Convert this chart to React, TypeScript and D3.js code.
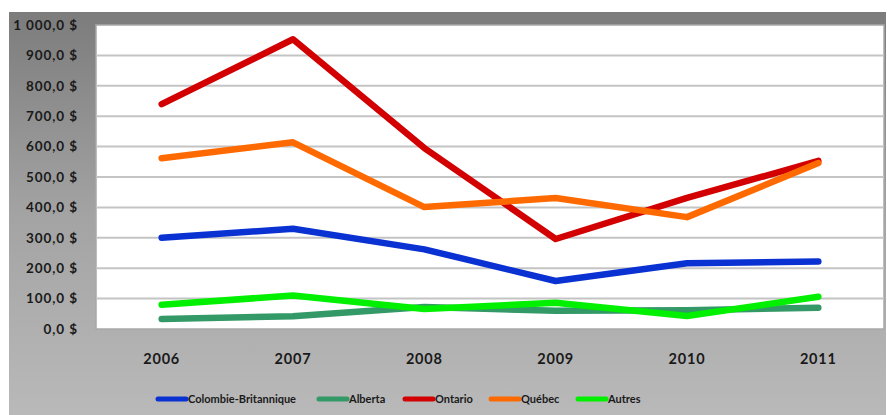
import React from "react";
import * as d3 from "d3";

const years = ["2006", "2007", "2008", "2009", "2010", "2011"];
const seriesNames = ["Colombie-Britannique", "Alberta", "Ontario", "Québec", "Autres"];
const seriesColors = ["#0a32d2", "#339966", "#d20000", "#ff6a00", "#00f000"];
const colombieBritannique = [300, 330, 262, 158, 216, 222];
const alberta = [33, 42, 72, 60, 62, 70];
const ontario = [740, 953, 595, 296, 431, 553];
const quebec = [562, 614, 401, 431, 368, 546];
const autres = [80, 110, 66, 86, 43, 106];
const yTicks = [0, 100, 200, 300, 400, 500, 600, 700, 800, 900, 1000];

const allSeries = [colombieBritannique, alberta, ontario, quebec, autres];

const fmt = (v: number) => {
  const s = v.toFixed(1).replace(".", ",");
  const [i, d] = s.split(",");
  const ii = i.replace(/\B(?=(\d{3})+(?!\d))/g, " ");
  return `${ii},${d} $`;
};

export default function App() {
  const W = 887, H = 415;
  const plot = { left: 96, right: 884, top: 25, bottom: 329 };
  const x = d3.scaleBand<string>().domain(years).range([plot.left, plot.right]);
  const y = d3.scaleLinear().domain([0, 1000]).range([plot.bottom, plot.top]);
  const line = d3
    .line<number>()
    .x((_, i) => (x(years[i]) as number) + x.bandwidth() / 2)
    .y((d) => y(d));
  const font = "Lato, 'Open Sans', sans-serif";
  const legendX = [158, 319, 405, 491, 578];
  return (
    <svg
      width={W}
      height={H}
      style={{ position: "absolute", left: 0, top: 0 }}
    >
      <defs>
        <linearGradient id="bg" x1="0" y1="0" x2="0" y2="1">
          <stop offset="0" stopColor="#7c7c7c" />
          <stop offset="0.5" stopColor="#a3a3a3" />
          <stop offset="1" stopColor="#b9b9b9" />
        </linearGradient>
      </defs>
      <rect x={0} y={0} width={W} height={H} fill="#fff" />
      <rect x={9} y={12} width={877} height={403} fill="url(#bg)" />
      <rect
        x={plot.left}
        y={plot.top}
        width={plot.right - plot.left}
        height={plot.bottom - plot.top}
        fill="#ffffff"
        stroke="#a8a8a8"
        strokeWidth={1.5}
      />
      {yTicks.map((t) => (
        <g key={t}>
          {t > 0 && t < 1000 && (
            <line
              x1={plot.left}
              x2={plot.right}
              y1={y(t)}
              y2={y(t)}
              stroke="#c4c4c4"
              strokeWidth={2}
            />
          )}
          <text
            x={78}
            y={y(t)}
            dy="0.35em"
            textAnchor="end"
            fontFamily={font}
            fontWeight="bold"
            fontSize={13.5}
            letterSpacing={0.9}
            fill="#1a1a1a"
          >
            {fmt(t)}
          </text>
        </g>
      ))}
      {years.map((yr) => (
        <text
          key={yr}
          x={(x(yr) as number) + x.bandwidth() / 2}
          y={364}
          textAnchor="middle"
          fontFamily={font}
          fontWeight="bold"
          fontSize={14.5}
          letterSpacing={0.8}
          fill="#1a1a1a"
        >
          {yr}
        </text>
      ))}
      {allSeries.map((s, i) => (
        <path
          key={seriesNames[i]}
          d={line(s) || ""}
          fill="none"
          stroke={seriesColors[i]}
          strokeWidth={6.5}
          strokeLinecap="round"
          strokeLinejoin="round"
        />
      ))}
      {seriesNames.map((n, i) => (
        <g key={n}>
          <line
            x1={legendX[i]}
            x2={legendX[i] + 28}
            y1={399}
            y2={399}
            stroke={seriesColors[i]}
            strokeWidth={5}
            strokeLinecap="round"
          />
          <text
            x={legendX[i] + 30}
            y={399}
            dy="0.35em"
            fontFamily={font}
            fontWeight="bold"
            fontSize={11}
            fill="#1a1a1a"
          >
            {n}
          </text>
        </g>
      ))}
    </svg>
  );
}
